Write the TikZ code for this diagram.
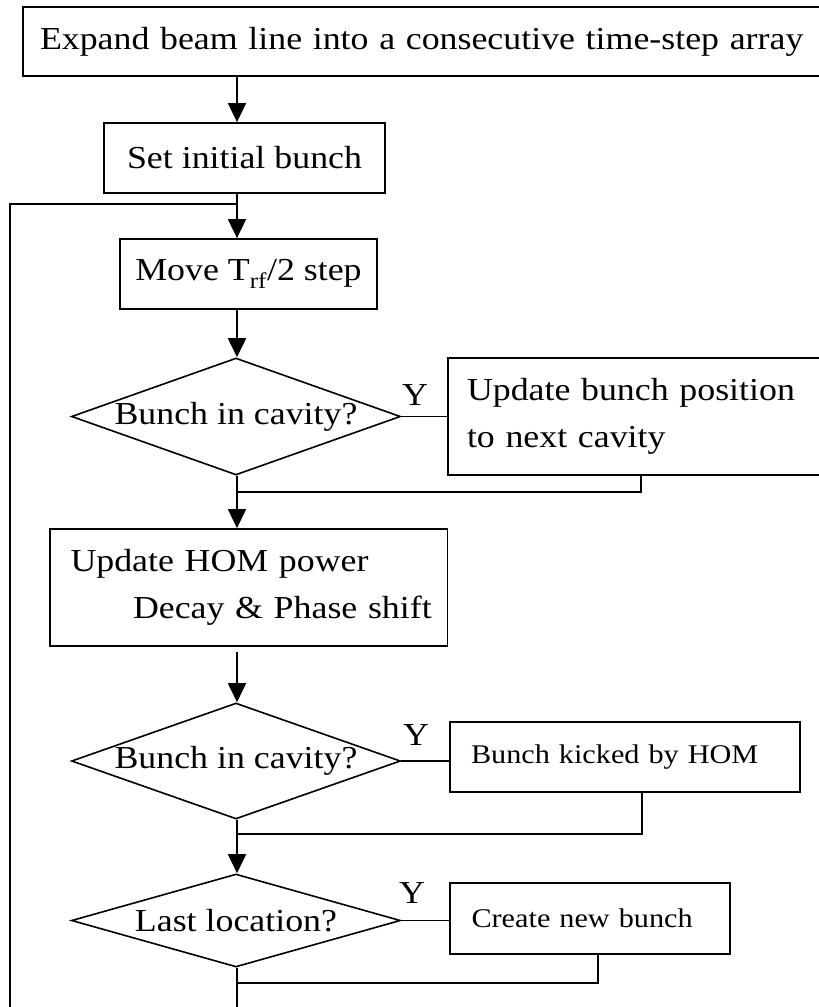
\documentclass[tikz,border=0pt]{standalone}
\usepackage{fontspec}
\setmainfont{Liberation Serif}[FakeStretch=1.12]
\usetikzlibrary{shapes.geometric,arrows.meta}
\newcommand{\mainsz}{\fontsize{32}{47}\selectfont}
\newcommand{\smallsz}{\fontsize{27}{32}\selectfont}
\tikzset{
  flow/.style={line width=1.8pt},
  arr/.style={flow,-{Triangle[length=19pt,width=18pt]}},
  box/.style={draw, line width=1.8pt, rectangle, inner sep=0pt, font=\mainsz},
  dia/.style={draw, line width=1.6pt, diamond, inner sep=0pt},
  ylab/.style={font=\mainsz, inner sep=0pt},
}
\begin{document}
\begin{tikzpicture}[x=1pt,y=-1pt]
\useasboundingbox (0,0) rectangle (819,1007);
\clip (0,0) rectangle (819,1007);
\coordinate (sp) at (237,0);
% boxes
\node[box, minimum width=810pt, minimum height=69pt, text width=776pt, inner xsep=17pt, align=left] (b1) at (428,41.5) {\mbox{Expand beam line into a consecutive time-step array}};
\node[box, minimum width=281pt, minimum height=70pt] (b2) at (244.5,158) {Set initial bunch};
\node[box, minimum width=257pt, minimum height=70pt] (b3) at (248.5,274) {Move T\textsubscript{rf}/2 step};
\node[dia, minimum width=329pt, minimum height=117pt, label={[font=\mainsz]center:Bunch in cavity?}] (d1) at (236,416.5) {};
\node[box, minimum width=386pt, minimum height=117pt, text width=348pt, inner xsep=19pt, align=left] (b4) at (641,416.5) {\mbox{Update bunch position}\\\mbox{to next cavity}};
\node[box, minimum width=397.5pt, minimum height=117pt, text width=356.5pt, inner xsep=20.5pt, align=left] (b5) at (248.75,587.5) {\mbox{Update HOM power}\\\mbox{\hspace*{62.5pt}Decay \& Phase shift}};
\node[dia, minimum width=329pt, minimum height=116pt, label={[font=\mainsz]center:Bunch in cavity?}] (d2) at (236,761) {};
\node[box, font=\smallsz, minimum width=350pt, minimum height=70pt, text width=308pt, inner xsep=21pt, align=left] (b6) at (625,757) {\mbox{Bunch kicked by HOM}};
\node[dia, minimum width=329pt, minimum height=93pt, label={[font=\mainsz]center:Last location?}] (d3) at (236,920.5) {};
\node[box, font=\smallsz, minimum width=280pt, minimum height=71pt, text width=237pt, inner xsep=21.5pt, align=left] (b7) at (590,918.5) {\mbox{Create new bunch}};
% Y labels
\node[ylab] (y1) at (415,395) {Y};
\node[ylab] (y2) at (416,735) {Y};
\node[ylab] (y3) at (412,893) {Y};
% coordinates
\coordinate (lj) at (237,204);
\coordinate (lb) at (10,1015);
\coordinate (m1) at (237,492);
\coordinate (s6) at (642,834);
\coordinate (m2) at (237,834);
\coordinate (s7) at (598,983);
\coordinate (m3) at (237,983);
% main flow
\draw[arr] (b1.south -| sp) -- (b2.north -| sp);
\draw[arr] (b2.south -| sp) -- (b3.north -| sp);
\draw[flow] (lb) -- (lb |- lj) -- (lj);
\draw[arr] (b3.south -| sp) -- (d1.north -| sp);
\draw[arr] (d1.south -| sp) -- (b5.north -| sp);
\draw[arr, shorten <=5pt] (b5.south -| sp) -- (d2.north -| sp);
\draw[arr] (d2.south -| sp) -- (d3.north -| sp);
\draw[flow] (d3.south -| sp) -- (sp |- lb);
% yes branches
\draw[flow] (d1.east) -- (d1.east -| b4.west);
\draw[flow] (b4.south) -- (b4.south |- m1) -- (m1);
\draw[flow] (d2.east) -- (d2.east -| b6.west);
\draw[flow] (s6 |- b6.south) -- (s6) -- (m2);
\draw[flow] (d3.east) -- (d3.east -| b7.west);
\draw[flow] (s7 |- b7.south) -- (s7) -- (m3);
\end{tikzpicture}
\end{document}
